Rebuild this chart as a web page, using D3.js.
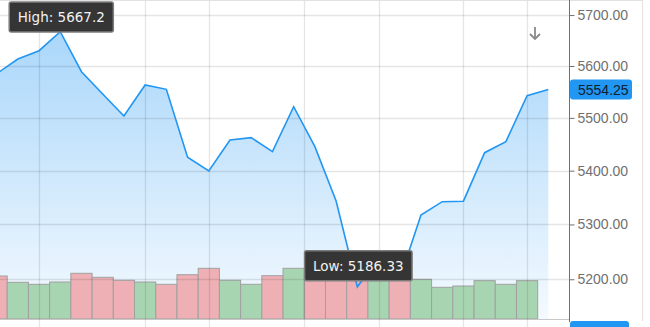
<!DOCTYPE html>
<html>
<head>
<meta charset="utf-8">
<script src="https://cdn.jsdelivr.net/npm/d3@7"></script>
<style>
    body { margin: 0; background: #fff; }
    svg { display: block; font-family: "Liberation Sans", Arial, sans-serif; }
    .yaxis text { fill: #707070; font-size: 14px; }
    .yaxis line { stroke: #707070; }
    .tip text { font-family: "DejaVu Sans", sans-serif; font-size: 13.5px; }
</style>
</head>
<body>
<div id="chart"></div>
<script>
"use strict"

// price closes, one per session (last one is the live price)
const closes = [5585.0, 5613.6, 5629.8, 5667.2, 5588.9, 5545.8, 5503.6, 5563.2, 5554.8, 5425.2,
    5399.4, 5457.8, 5462.2, 5435.7, 5521.4, 5445.2, 5343.4, 5186.33, 5236.8, 5200.5,
    5317.5, 5342.1, 5343.0, 5433.8, 5454.6, 5542.5, 5554.25];
const prevClose = 5590.0;
// volume in millions, no bar yet for the live session
const volumes = [4.30, 3.67, 3.47, 3.70, 4.57, 4.17, 3.87, 3.70, 3.47, 4.43,
    5.07, 3.87, 3.47, 4.33, 5.07, 4.50, 4.20, 4.90, 4.10, 4.40,
    3.97, 3.17, 3.30, 3.83, 3.47, 3.83];
const yTicks = [5200, 5300, 5400, 5500, 5600, 5700];
// vertical grid lines, in session index
const xTicks = [2, 7, 10, 14.5, 18, 22, 25];
const yDomain = [5128.7, 5729.9];
const volDomain = [0, 10];

const width = 650;
const height = 327;
const plotRight = 569;
const plotBottom = 319;

const svg = d3.select("#chart").append("svg")
    .attr("width", width)
    .attr("height", height);

//----------------------------SCALES----------------------------//
const x = d3.scaleLinear().domain([0, closes.length - 1]).range([-3.4, 548.3]);
const y = d3.scaleLog().domain(yDomain).range([plotBottom, 0]);
const yVol = d3.scaleLinear().domain(volDomain).range([plotBottom, plotBottom - 100]);
const step = x(1) - x(0);

const defs = svg.append("defs");
defs.append("clipPath").attr("id", "plot-clip")
    .append("rect").attr("x", 0).attr("y", 0).attr("width", plotRight).attr("height", height);
const plot = svg.append("g").attr("clip-path", "url(#plot-clip)");

//-----------------------------AREA-----------------------------//
const grad = defs.append("linearGradient")
    .attr("id", "area-grad")
    .attr("gradientUnits", "userSpaceOnUse")
    .attr("x1", 0).attr("x2", 0).attr("y1", 0).attr("y2", plotBottom);
grad.append("stop").attr("offset", 0).attr("stop-color", "#2196f3").attr("stop-opacity", 0.42);
grad.append("stop").attr("offset", 1).attr("stop-color", "#2196f3").attr("stop-opacity", 0.05);

plot.append("path")
    .datum(closes)
    .attr("fill", "url(#area-grad)")
    .attr("d", d3.area().x((d, i) => x(i)).y0(plotBottom).y1(d => y(d)));

//-----------------------------BARS-----------------------------//
plot.append("g").selectAll("rect")
    .data(volumes)
    .join("rect")
    .attr("x", (d, i) => x(i) - step / 2)
    .attr("y", d => yVol(d))
    .attr("width", step)
    .attr("height", d => yVol(0) - yVol(d))
    .attr("fill", (d, i) => closes[i] >= (i ? closes[i - 1] : prevClose) ? "#a8d5b1" : "#eeb0b4")
    .attr("stroke", "#a0a0a0")
    .attr("stroke-width", 1);

// baseline behind the bars
plot.append("line")
    .attr("x1", 0).attr("x2", plotRight)
    .attr("y1", plotBottom + 0.5).attr("y2", plotBottom + 0.5)
    .attr("stroke", "#c8c8c8");

//-----------------------------GRID-----------------------------//
plot.append("g").selectAll("line")
    .data(yTicks)
    .join("line")
    .attr("x1", 0).attr("x2", plotRight)
    .attr("y1", d => Math.round(y(d)) + 0.5).attr("y2", d => Math.round(y(d)) + 0.5)
    .attr("stroke", "rgba(0,0,0,0.1)")
    .attr("stroke-width", 1.3);

plot.append("g").selectAll("line")
    .data(xTicks)
    .join("line")
    .attr("x1", d => Math.round(x(d)) + 0.5).attr("x2", d => Math.round(x(d)) + 0.5)
    .attr("y1", 0).attr("y2", height)
    .attr("stroke", "rgba(0,0,0,0.1)")
    .attr("stroke-width", 1.3);

//-----------------------------LINE-----------------------------//
plot.append("path")
    .datum(closes)
    .attr("fill", "none")
    .attr("stroke", "#2196f3")
    .attr("stroke-width", 1.6)
    .attr("d", d3.line().x((d, i) => x(i)).y(d => y(d)));

// frame (top and right)
svg.append("line").attr("x1", 0).attr("x2", 642).attr("y1", 0.5).attr("y2", 0.5).attr("stroke", "#e2e2e2");
svg.append("line").attr("x1", 642.5).attr("x2", 642.5).attr("y1", 0).attr("y2", 321).attr("stroke", "#e2e2e2");

//-----------------------------AXIS-----------------------------//
const yaxis = d3.axisRight(y)
    .tickValues(yTicks)
    .tickFormat(d3.format(".2f"))
    .tickSize(5)
    .tickSizeOuter(0)
    .tickPadding(3);

const yaxisEl = svg.append("g")
    .attr("class", "yaxis")
    .attr("transform", `translate(${plotRight + 0.5},0)`)
    .call(yaxis);
yaxisEl.select(".domain").remove();
yaxisEl.append("line")
    .attr("y1", 0).attr("y2", 322)
    .attr("stroke", "#555");

// last price tag
const last = closes[closes.length - 1];
svg.append("rect")
    .attr("x", plotRight + 1).attr("y", y(last) - 10)
    .attr("width", 62).attr("height", 20).attr("rx", 3)
    .attr("fill", "#2196f3");
svg.append("text")
    .attr("x", plotRight + 9).attr("y", y(last) + 5)
    .attr("font-size", 14)
    .attr("fill", "#10202e")
    .text(d3.format(".2f")(last));

// partial label at the bottom edge
svg.append("rect")
    .attr("x", plotRight + 1).attr("y", 321)
    .attr("width", 59).attr("height", 20).attr("rx", 3)
    .attr("fill", "#2196f3");

// scroll arrow icon
svg.append("path")
    .attr("d", "M535,27V39M530,34L535,39L540,34")
    .attr("fill", "none")
    .attr("stroke", "#8a8a8a")
    .attr("stroke-width", 1.8);

//---------------------------TOOLTIPS---------------------------//
const tooltip = (label, i) => {
    const px = x(i);
    const py = y(closes[i]);
    const g = svg.append("g").attr("class", "tip");
    const rect = g.append("rect");
    const text = g.append("text")
        .attr("fill", "#f2f2f2")
        .attr("text-anchor", "middle")
        .text(`${label}: ${closes[i]}`);
    const w = text.node().getComputedTextLength() + 17;
    const h = 30;
    const top = Math.max(2, py - 6 - h);
    rect.attr("x", px - w / 2 + 1).attr("y", top)
        .attr("width", w).attr("height", h).attr("rx", 2)
        .attr("fill", "#353535")
        .attr("stroke", "#7c7c7c")
        .attr("stroke-width", 1.5);
    text.attr("x", px + 1).attr("y", top + h / 2 + 5);
};

const hiIdx = d3.maxIndex(closes);
const loIdx = d3.minIndex(closes);
tooltip("High", hiIdx);
tooltip("Low", loIdx);
</script>
</body>
</html>
